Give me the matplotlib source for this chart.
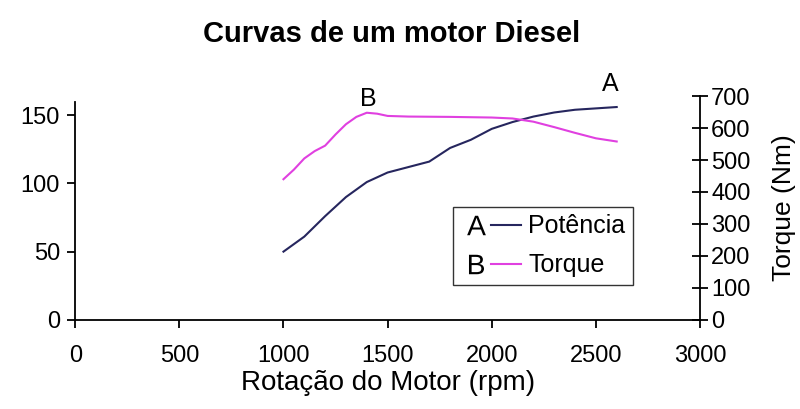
import matplotlib.pyplot as plt
from matplotlib.lines import Line2D
from matplotlib.legend_handler import HandlerTuple

plt.rcParams['font.family'] = ['Liberation Sans', 'DejaVu Sans']

rpm_pot = [1000, 1100, 1200, 1300, 1400, 1500, 1600, 1700, 1800, 1900, 2000,
           2100, 2200, 2300, 2400, 2500, 2600]
potencia = [50, 61, 76, 90, 101, 108, 112, 116, 126, 132, 140,
            145, 149, 152, 154, 155, 156]

rpm_tor = [1000, 1050, 1100, 1150, 1200, 1250, 1300, 1350, 1400, 1450, 1500,
           1600, 1800, 2000, 2100, 2200, 2300, 2400, 2500, 2600]
torque = [440, 470, 505, 528, 545, 580, 612, 635, 648, 645, 638,
          636, 635, 633, 630, 620, 603, 585, 568, 558]

pot_color = '#26265e'
tor_color = '#e040e0'

fig = plt.figure(figsize=(8, 4.09), dpi=100)
ax = fig.add_axes([0.094, 0.218, 0.781, 0.547])
ax2 = ax.twinx()

ax.plot(rpm_pot, potencia, color=pot_color, lw=1.5)
ax2.plot(rpm_tor, torque, color=tor_color, lw=1.5)

ax.set_xlim(0, 3000)
ax.set_ylim(0, 164)
ax2.set_ylim(0, 700)
ax.set_xticks(range(0, 3001, 500))
ax.set_yticks([0, 50, 100, 150])
ax2.set_yticks(range(0, 701, 100))

for s in ['top', 'right']:
    ax.spines[s].set_visible(False)
for s in ['top', 'left', 'bottom']:
    ax2.spines[s].set_visible(False)
ax.spines['left'].set_bounds(0, 160)
for s in ax.spines.values():
    s.set_linewidth(1.3)
ax2.spines['right'].set_linewidth(1.3)

ax.tick_params(axis='x', direction='out', length=6, width=1.3,
               labelsize=17, pad=12)
ax.tick_params(axis='y', direction='out', length=6, width=1.3,
               labelsize=17, pad=5)
ax2.tick_params(axis='y', direction='inout', length=12, width=1.3,
                labelsize=17, pad=2)

ax.set_xlabel('Rotação do Motor (rpm)', fontsize=20, labelpad=2)
ax2.set_ylabel('Torque (Nm)', fontsize=19, va='center')
ax2.yaxis.set_label_coords(1.135, 0.5)

ax.text(2568, 164, 'A', fontsize=18, ha='center', va='bottom')
ax2.text(1406, 652, 'B', fontsize=18, ha='center', va='bottom')

fig.suptitle('Curvas de um motor Diesel', fontsize=21, fontweight='bold',
             x=0.489, y=0.95)

hA = Line2D([], [], marker='$\\mathregular{A}$', ls='none', color='black',
            markersize=14, markeredgewidth=0)
hB = Line2D([], [], marker='$\\mathregular{B}$', ls='none', color='black',
            markersize=14, markeredgewidth=0)
lA = Line2D([], [], color=pot_color, lw=1.5)
lB = Line2D([], [], color=tor_color, lw=1.5)
leg = ax.legend([(hA, lA), (hB, lB)], ['Potência', 'Torque'],
                handler_map={tuple: HandlerTuple(ndivide=None, pad=0.0)},
                loc='upper left', bbox_to_anchor=(0.605, 0.505),
                fontsize=18, frameon=True, fancybox=False,
                handlelength=2.4, handletextpad=0.3, borderpad=0.3,
                labelspacing=0.6, borderaxespad=0)
leg.get_frame().set_edgecolor('black')
leg.get_frame().set_linewidth(1.0)

fig.savefig('out.png')
